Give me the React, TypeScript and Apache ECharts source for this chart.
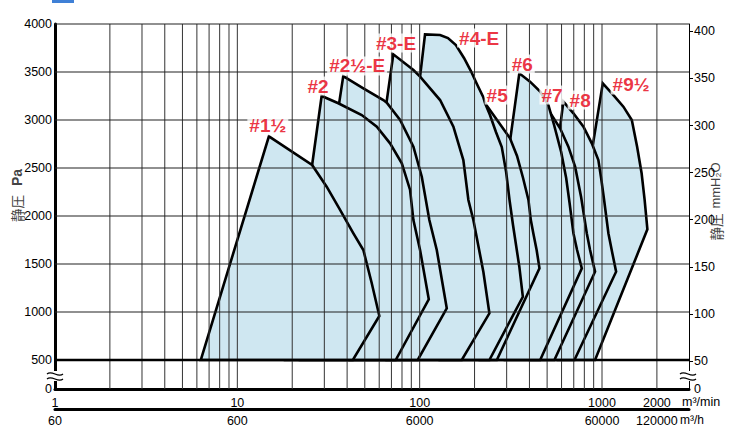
import React, { useEffect, useRef } from "react";
import * as echarts from "echarts";

// ---- data (flow in m³/min, static pressure in Pa) ----
const fanNames = ["#9½", "#8", "#7", "#6", "#5", "#4-E", "#3-E", "#2½-E", "#2", "#1½"];

const fan9_5 = [[574, 500], [1010, 3382], [1155, 3260], [1310, 3139], [1457, 3000], [1558, 2722], [1649, 2445], [1713, 2167], [1774, 1861], [916, 500]];
const fan8 = [[403, 500], [614, 3191], [697, 3070], [791, 2930], [879, 2757], [955, 2583], [989, 2396], [1027, 2167], [1084, 1820], [1136, 1625], [1195, 1420], [706, 500]];
const fan7 = [[294, 500], [435, 3292], [500, 3125], [589, 2914], [654, 2722], [712, 2514], [768, 2198], [825, 1820], [860, 1646], [916, 1420], [548, 500]];
const fan6 = [[214, 500], [352, 3486], [403, 3399], [458, 3295], [508, 3156], [546, 2948], [597, 2667], [636, 2396], [664, 2135], [697, 1820], [730, 1646], [775, 1455], [458, 500]];
const fan5 = [[129, 500], [204, 3302], [228.5, 3174], [313, 2809], [342, 2625], [369, 2396], [395, 2167], [407, 1958], [420, 1820], [438, 1646], [454, 1455], [265, 500]];
const fan4E = [[66, 500], [107, 3891], [129.4, 3885], [143, 3854], [158, 3781], [175, 3646], [191, 3510], [206, 3375], [223, 3240], [228.5, 3174], [243, 3052], [262, 2875], [282, 2719], [298, 2458], [311, 2167], [325, 1906], [352, 1472], [368, 1159], [241.2, 500]];
const fan3E = [[41.5, 500], [71.7, 3684], [92.4, 3521], [100.5, 3451], [129.4, 3208], [153.1, 2930], [173.6, 2583], [185, 2167], [197, 1958], [223.6, 1417], [241.2, 986], [170.2, 500]];
const fan2_5E = [[22.1, 500], [38.1, 3458], [49.1, 3330], [63.2, 3208], [66, 3180], [78.1, 3000], [92.4, 2722], [102.7, 2409], [113, 1958], [124.1, 1646], [140.8, 1039], [97.6, 500]];
const fan2 = [[18.3, 500], [29, 3250], [35.8, 3174], [48.1, 3052], [58.2, 2930], [68.8, 2757], [79.8, 2549], [88.6, 2271], [92.4, 1958], [100.5, 1646], [112.2, 1132], [73.9, 500]];
const fan1_5 = [[6.3, 500], [14.9, 2830], [25.7, 2531], [30.9, 2305], [36.6, 2063], [43.3, 1820], [49.1, 1646], [54.6, 1299], [60.1, 958], [43, 500]];

const fanCurves = [fan9_5, fan8, fan7, fan6, fan5, fan4E, fan3E, fan2_5E, fan2, fan1_5];

const labelAnchors = [[1444, 3365], [759, 3208], [532, 3260], [365, 3583], [266, 3260], [212, 3854], [74.2, 3802], [45.4, 3563], [27.7, 3354], [14.7, 2940]];

const xGridValues = [2, 3, 4, 5, 6, 7, 8, 9, 10, 20, 30, 40, 50, 60, 70, 80, 90, 100, 200, 300, 400, 500, 600, 700, 800, 900, 1000, 2000];
const yGridValues = [500, 1000, 1500, 2000, 2500, 3000, 3500, 4000];
const xLabelValues = [1, 10, 100, 1000, 2000];
const leftLabelValues = [500, 1000, 1500, 2000, 2500, 3000, 3500, 4000];
const rightLabelValues = [50, 100, 150, 200, 250, 300, 350, 400];

const PA_PER_MMH2O = 9.80665;
const M3H_PER_M3MIN = 60;
const X_MIN = 1;
const X_MAX = 3000;
const Y_MIN = 198;
const Y_MAX = 4000;

const FONT = '"Liberation Sans", Arial, Helvetica, sans-serif';
const FILL = "#cfe7f1";
const RED = "#e60012";

function buildOption() {
  const rMin = Y_MIN / PA_PER_MMH2O;
  const rMax = Y_MAX / PA_PER_MMH2O;
  const labelStyle = { color: "#000", fontSize: 12.5, fontFamily: FONT };

  const breakMark = (cx: number) => [
    { type: "rect", z: 100, shape: { x: cx - 6, y: 371, width: 12, height: 10 }, style: { fill: "#fff" } },
    { type: "bezierCurve", z: 101, shape: { x1: cx - 8, y1: 374, cpx1: cx - 3, cpy1: 369.5, cpx2: cx + 3, cpy2: 378.5, x2: cx + 8, y2: 374 }, style: { stroke: "#000", lineWidth: 1.2, fill: null } },
    { type: "bezierCurve", z: 101, shape: { x1: cx - 8, y1: 379, cpx1: cx - 3, cpy1: 374.5, cpx2: cx + 3, cpy2: 383.5, x2: cx + 8, y2: 379 }, style: { stroke: "#000", lineWidth: 1.2, fill: null } },
  ];

  return {
    animation: false,
    backgroundColor: "#fff",
    grid: { left: 55, top: 24, width: 634, height: 365, containLabel: false, outerBoundsMode: "none" },
    xAxis: [
      {
        type: "log", logBase: 10, min: X_MIN, max: X_MAX, position: "bottom",
        axisLine: { show: true, onZero: false, lineStyle: { color: "#000", width: 3 } },
        axisTick: { show: false }, splitLine: { show: false }, minorTick: { show: false },
        axisLabel: { customValues: xLabelValues, formatter: (v: number) => String(Math.round(v)), margin: 7, ...labelStyle },
      },
      {
        type: "log", logBase: 10, min: X_MIN, max: X_MAX, position: "bottom", offset: 20,
        axisLine: { show: true, onZero: false, lineStyle: { color: "#000", width: 3 } },
        axisTick: { show: false }, splitLine: { show: false }, minorTick: { show: false },
        axisLabel: { customValues: xLabelValues, formatter: (v: number) => String(Math.round(v) * M3H_PER_M3MIN), margin: 5, ...labelStyle },
      },
    ],
    yAxis: [
      {
        type: "value", min: Y_MIN, max: Y_MAX, position: "left",
        axisLine: { show: true, onZero: false, lineStyle: { color: "#000", width: 3 } },
        axisTick: { show: false }, splitLine: { show: false },
        axisLabel: { customValues: [Y_MIN, ...leftLabelValues], formatter: (v: number) => (v < 400 ? "0" : String(v)), margin: 3, ...labelStyle },
        name: "{a|静圧}{b|Pa}", nameLocation: "middle", nameGap: 31, nameRotate: 90, nameMoveOverlap: false,
        nameTextStyle: {
          padding: [0, 0, 0, 22],
          rich: {
            a: { fontFamily: '"Noto Sans CJK JP", sans-serif', fontSize: 13.5, color: "#444", padding: [0, 9, 0, 0] },
            b: { fontFamily: FONT, fontWeight: "bold", fontSize: 14, color: "#444" },
          },
        },
      },
      {
        type: "value", min: rMin, max: rMax, position: "right",
        axisLine: { show: true, onZero: false, lineStyle: { color: "#000", width: 1 } },
        axisTick: { show: true, inside: false, length: 4, customValues: rightLabelValues, lineStyle: { color: "#000", width: 1 } },
        splitLine: { show: false },
        axisLabel: { customValues: [rMin, ...rightLabelValues], formatter: (v: number) => (v < 40 ? "0" : String(Math.round(v))), margin: 5, ...labelStyle },
        name: "{a|静圧}{b|mmH₂O}", nameLocation: "middle", nameGap: 20, nameRotate: 90, nameMoveOverlap: false,
        nameTextStyle: {
          padding: [0, 0, 0, 10],
          rich: {
            a: { fontFamily: '"Noto Sans CJK JP", sans-serif', fontSize: 13.5, color: "#444", padding: [0, 5, 0, 0] },
            b: { fontFamily: '"Liberation Sans", "DejaVu Sans", sans-serif', fontSize: 13, color: "#444" },
          },
        },
      },
    ],
    series: [
      {
        type: "custom",
        coordinateSystem: "cartesian2d",
        xAxisIndex: 0,
        yAxisIndex: 0,
        z: 1,
        clip: false,
        data: fanCurves.map((c) => c[1]),
        renderItem: (params: any, api: any) => {
          const pts = fanCurves[params.dataIndex].map((p) => api.coord(p));
          return {
            type: "polygon",
            shape: { points: pts },
            style: { fill: FILL, stroke: "#000", lineWidth: 2.6, lineJoin: "miter" },
          };
        },
      },
      {
        // vertical grid lines, drawn over the fills
        type: "custom",
        coordinateSystem: "cartesian2d",
        xAxisIndex: 0,
        yAxisIndex: 0,
        z: 3,
        silent: true,
        clip: false,
        data: xGridValues.map((v) => [v, Y_MAX]),
        renderItem: (params: any, api: any) => {
          const v = xGridValues[params.dataIndex];
          const a = api.coord([v, Y_MIN]);
          const b = api.coord([v, Y_MAX]);
          return { type: "line", shape: { x1: a[0], y1: a[1], x2: b[0], y2: b[1] }, style: { stroke: "#333", lineWidth: 1 } };
        },
      },
      {
        // horizontal grid lines
        type: "custom",
        coordinateSystem: "cartesian2d",
        xAxisIndex: 0,
        yAxisIndex: 0,
        z: 4,
        silent: true,
        clip: false,
        data: yGridValues.map((v) => [X_MAX, v]),
        renderItem: (params: any, api: any) => {
          const v = yGridValues[params.dataIndex];
          const a = api.coord([X_MIN, v]);
          const b = api.coord([X_MAX, v]);
          return {
            type: "line",
            shape: { x1: a[0], y1: a[1], x2: b[0], y2: b[1] },
            style: { stroke: v === 500 ? "#000" : "#222", lineWidth: v === 500 ? 2.4 : 1.2 },
          };
        },
      },
      {
        type: "scatter",
        xAxisIndex: 0,
        yAxisIndex: 0,
        z: 10,
        symbolSize: 0,
        silent: true,
        data: fanNames.map((n, i) => ({ name: n, value: labelAnchors[i] })),
        label: {
          show: true,
          position: "inside",
          formatter: "{b}",
          color: RED,
          fontWeight: "bold",
          fontSize: 19,
          fontFamily: FONT,
          backgroundColor: "#fff",
          padding: [0, 2],
        },
      },
    ],
    graphic: [
      { type: "rect", shape: { x: 52, y: -6, width: 22, height: 9 }, style: { fill: "#3f80d6" } },
      { type: "text", x: 682, y: 402, style: { text: "m³/min", fill: "#000", font: '12.5px "Liberation Sans", Arial, sans-serif', verticalAlign: "middle", align: "left" } },
      { type: "text", x: 680, y: 419.5, style: { text: "m³/h", fill: "#000", font: '12px "Liberation Sans", Arial, sans-serif', verticalAlign: "middle", align: "left" } },
      ...breakMark(55),
      ...breakMark(688),
    ],
  };
}

export default function App() {
  const ref = useRef<HTMLDivElement>(null);
  useEffect(() => {
    if (!ref.current) return;
    const chart = echarts.init(ref.current, null, { renderer: "svg" });
    chart.setOption(buildOption() as any);
    return () => chart.dispose();
  }, []);
  return <div ref={ref} style={{ position: "absolute", left: 0, top: 0, width: 732, height: 427, overflow: "hidden" }} />;
}
